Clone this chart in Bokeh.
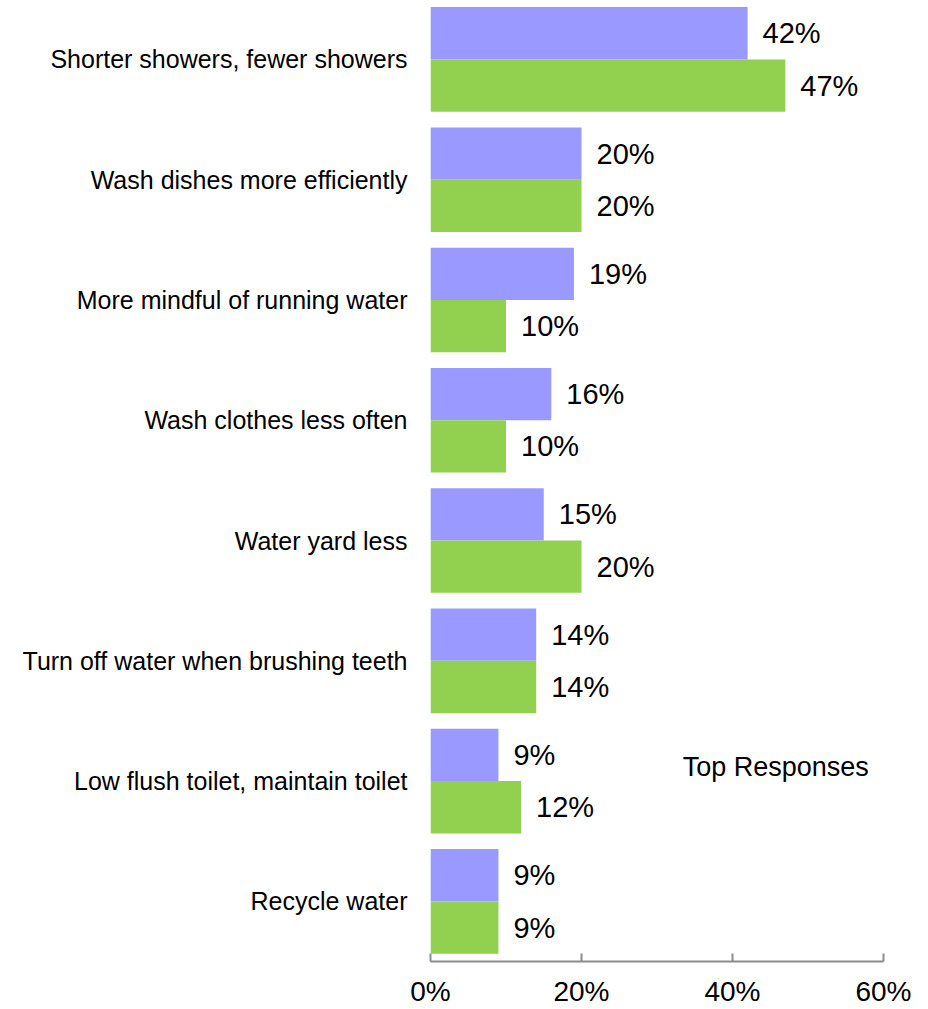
from bokeh.plotting import figure
from bokeh.models import Range1d, FixedTicker, PrintfTickFormatter, ColumnDataSource, Label
from bokeh.core.properties import value
from bokeh.embed import file_html
from bokeh.resources import INLINE

categories = [
    "Shorter showers, fewer showers",
    "Wash dishes more efficiently",
    "More mindful of running water",
    "Wash clothes less often",
    "Water yard less",
    "Turn off water when brushing teeth",
    "Low flush toilet, maintain toilet",
    "Recycle water",
]
series_a = [42, 20, 19, 16, 15, 14, 9, 9]
series_b = [47, 20, 10, 10, 20, 14, 12, 9]
x_ticks = [0, 20, 40, 60]
legend_title = "Top Responses"

FONT = "Liberation Sans"
n = len(categories)
centers = [n - 0.5 - i for i in range(n)]
bh = 0.435

src_a = ColumnDataSource(dict(y=[c + bh / 2 for c in centers], v=series_a,
                              lab=[f"{v}%" for v in series_a]))
src_b = ColumnDataSource(dict(y=[c - bh / 2 for c in centers], v=series_b,
                              lab=[f"{v}%" for v in series_b]))

p = figure(width=928, height=1009, output_backend="svg", toolbar_location=None,
           x_range=Range1d(0, 60), y_range=Range1d(0, 7.99),
           min_border_left=430, min_border_right=45, min_border_top=0, min_border_bottom=46)

p.hbar(y="y", right="v", left=0, height=bh, source=src_a, fill_color="#9999FF", line_color=None)
p.hbar(y="y", right="v", left=0, height=bh, source=src_b, fill_color="#92D050", line_color=None)

for src in (src_a, src_b):
    p.text(x="v", y="y", text="lab", source=src, x_offset=15,
           text_font=value(FONT), text_font_size="29px", text_color="#000000",
           text_baseline="middle", text_align="left")

p.add_layout(Label(x=33.4, y=1.62, text=legend_title, text_font=FONT, text_font_size="27px",
                   text_color="#000000", text_baseline="middle", text_align="left"))

p.xgrid.visible = False
p.ygrid.visible = False
p.outline_line_color = None
p.background_fill_color = "white"
p.border_fill_color = "white"

xa = p.xaxis[0]
xa.ticker = FixedTicker(ticks=x_ticks)
xa.formatter = PrintfTickFormatter(format="%d%%")
xa.axis_line_color = "#8c8c8c"
xa.axis_line_width = 2
xa.major_tick_line_color = "#8c8c8c"
xa.major_tick_line_width = 2
xa.major_tick_in = 8
xa.major_tick_out = 0
xa.minor_tick_line_color = None
xa.major_label_text_font = FONT
xa.major_label_text_font_size = "28px"
xa.major_label_text_color = "#000000"
xa.major_label_standoff = 14

ya = p.yaxis[0]
ya.ticker = FixedTicker(ticks=centers)
ya.major_label_overrides = {c: cat for c, cat in zip(centers, categories)}
ya.axis_line_color = None
ya.major_tick_line_color = None
ya.minor_tick_line_color = None
ya.major_tick_in = 0
ya.major_tick_out = 0
ya.major_label_standoff = 23
ya.major_label_text_font = FONT
ya.major_label_text_font_size = "25px"
ya.major_label_text_color = "#000000"

open("out.html", "w").write(file_html(p, INLINE))
